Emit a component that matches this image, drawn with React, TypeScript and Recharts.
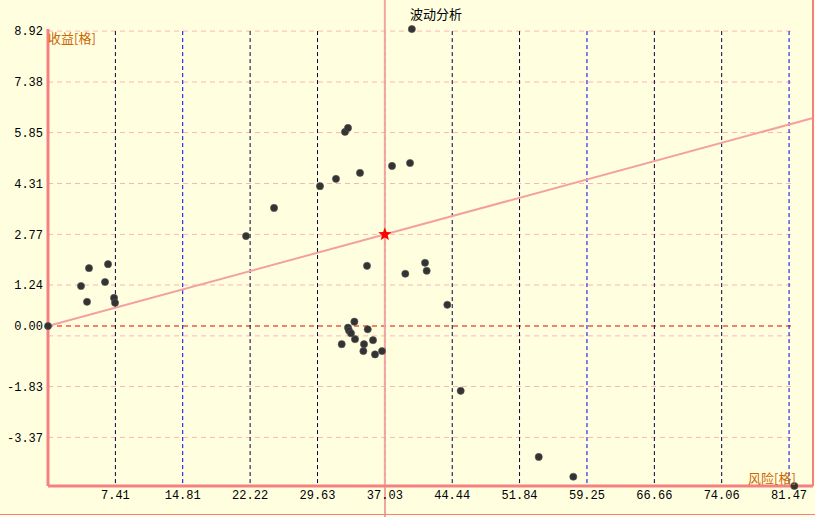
import React from 'react';
import {
  ScatterChart,
  Scatter,
  XAxis,
  YAxis,
  ReferenceLine,
} from 'recharts';

const xTicks = [7.41, 14.81, 22.22, 29.63, 37.03, 44.44, 51.84, 59.25, 66.66, 74.06, 81.47];
const yTicks = [8.92, 7.38, 5.85, 4.31, 2.77, 1.24, 0, -1.83, -3.37];
const gridY = [8.92, 7.38, 5.85, 4.31, 2.77, 1.24, -0.3, -1.83, -3.37];

// risk (x) / return (y)
const points = [
  { x: 0, y: 0 },
  { x: 3.63, y: 1.21 },
  { x: 4.29, y: 0.73 },
  { x: 4.51, y: 1.75 },
  { x: 6.27, y: 1.33 },
  { x: 6.6, y: 1.87 },
  { x: 7.26, y: 0.85 },
  { x: 7.37, y: 0.7 },
  { x: 21.77, y: 2.72 },
  { x: 24.85, y: 3.57 },
  { x: 29.9, y: 4.23 },
  { x: 31.66, y: 4.45 },
  { x: 32.65, y: 5.87 },
  { x: 32.98, y: 5.99 },
  { x: 34.3, y: 4.63 },
  { x: 37.82, y: 4.84 },
  { x: 39.8, y: 4.93 },
  { x: 40.0, y: 8.98 },
  { x: 35.07, y: 1.82 },
  { x: 39.28, y: 1.58 },
  { x: 41.45, y: 1.91 },
  { x: 41.63, y: 1.67 },
  { x: 43.9, y: 0.64 },
  { x: 33.68, y: 0.13 },
  { x: 32.98, y: -0.05 },
  { x: 33.09, y: -0.14 },
  { x: 33.31, y: -0.22 },
  { x: 35.15, y: -0.1 },
  { x: 33.75, y: -0.4 },
  { x: 32.29, y: -0.55 },
  { x: 34.74, y: -0.55 },
  { x: 35.73, y: -0.43 },
  { x: 34.67, y: -0.76 },
  { x: 35.95, y: -0.86 },
  { x: 36.72, y: -0.76 },
  { x: 45.37, y: -1.96 },
  { x: 53.95, y: -3.96 },
  { x: 57.75, y: -4.56 },
  { x: 82.05, y: -4.84 },
];

const mean = [{ x: 37.03, y: 2.77 }];

const X_MAX = 84.1;
const Y_MIN = -4.84;
const Y_MAX = 9.86;
const GRID_X_END = 82.1;
const slope = mean[0].y / mean[0].x;

const tickFont = { fontFamily: 'Liberation Mono, DejaVu Sans Mono, monospace', fontSize: 12, fill: '#000' };

const Dot = (props: any) => (
  <circle cx={props.cx} cy={props.cy} r={3.6} fill="#333" stroke="#555" strokeWidth={0.6} />
);

const Star = (props: any) => {
  const { cx, cy } = props;
  const pts: string[] = [];
  for (let i = 0; i < 10; i++) {
    const r = i % 2 === 0 ? 7 : 3;
    const a = -Math.PI / 2 + (i * Math.PI) / 5;
    pts.push(`${cx + r * Math.cos(a)},${cy + r * Math.sin(a)}`);
  }
  return <polygon points={pts.join(' ')} fill="#ff0000" />;
};

export default function App() {
  return (
    <div style={{ position: 'absolute', left: 0, top: 0, width: 815, height: 517, background: '#ffffe0', overflow: 'hidden' }}>
      <div style={{ position: 'absolute', left: 384, top: 486, width: 2, height: 31, background: '#f4a4a0' }} />
      <ScatterChart width={815} height={517} margin={{ top: 0, right: 2, bottom: 0, left: 0 }}>
        <XAxis
          type="number"
          dataKey="x"
          domain={[0, X_MAX]}
          ticks={xTicks}
          tickFormatter={(v: number) => v.toFixed(2)}
          tick={tickFont}
          tickLine={false}
          tickSize={0}
          tickMargin={4}
          height={31}
          axisLine={{ stroke: '#f48080', strokeWidth: 3 }}
        />
        <YAxis
          type="number"
          dataKey="y"
          domain={[Y_MIN, Y_MAX]}
          ticks={yTicks}
          tickFormatter={(v: number) => v.toFixed(2)}
          tick={tickFont}
          tickLine={false}
          tickSize={0}
          tickMargin={5}
          width={48}
          axisLine={false}
        />
        {gridY.map((v) => (
          <ReferenceLine
            key={`gy-${v}`}
            segment={[{ x: 0, y: v }, { x: GRID_X_END, y: v }]}
            stroke="#ffb4b4"
            strokeDasharray="5 4"
            strokeWidth={1}
          />
        ))}
        <ReferenceLine
          segment={[{ x: 0, y: 0 }, { x: GRID_X_END, y: 0 }]}
          stroke="#ee0000"
          strokeDasharray="5 4"
          strokeWidth={1.2}
        />
        {xTicks.map((v, i) => (
          <ReferenceLine
            key={`gx-${v}`}
            segment={[{ x: v, y: 8.92 }, { x: v, y: Y_MIN }]}
            stroke={i % 3 === 1 ? '#0000ee' : '#000040'}
            strokeDasharray="4 3"
            strokeWidth={1}
          />
        ))}
        <ReferenceLine x={mean[0].x} stroke="#f4a4a0" strokeWidth={2} />
        <ReferenceLine
          segment={[{ x: 0, y: 0 }, { x: X_MAX, y: X_MAX * slope }]}
          stroke="#f4a0a0"
          strokeWidth={2}
        />
        <ReferenceLine
          segment={[{ x: 0, y: 8.98 }, { x: 0, y: Y_MIN }]}
          stroke="#f48080"
          strokeWidth={3}
        />
        <ReferenceLine x={X_MAX} stroke="#f48080" strokeWidth={2} />
        <Scatter data={points} shape={Dot} isAnimationActive={false} />
        <Scatter data={mean} shape={Star} isAnimationActive={false} />
      </ScatterChart>
      <div style={{ position: 'absolute', left: 410, top: 4, fontFamily: 'Noto Sans CJK SC', fontSize: 13, color: '#000' }}>
        波动分析
      </div>
      <div style={{ position: 'absolute', left: 48, top: 28, fontFamily: 'Noto Sans CJK SC', fontSize: 13, color: '#cc6600' }}>
        收益[格]
      </div>
      <div style={{ position: 'absolute', left: 748, top: 468, fontFamily: 'Noto Sans CJK SC', fontSize: 13, color: '#cc6600' }}>
        风险[格]
      </div>
      <div style={{ position: 'absolute', left: 0, top: 514, width: 815, height: 0, borderTop: '1px solid #f48080' }} />
    </div>
  );
}
